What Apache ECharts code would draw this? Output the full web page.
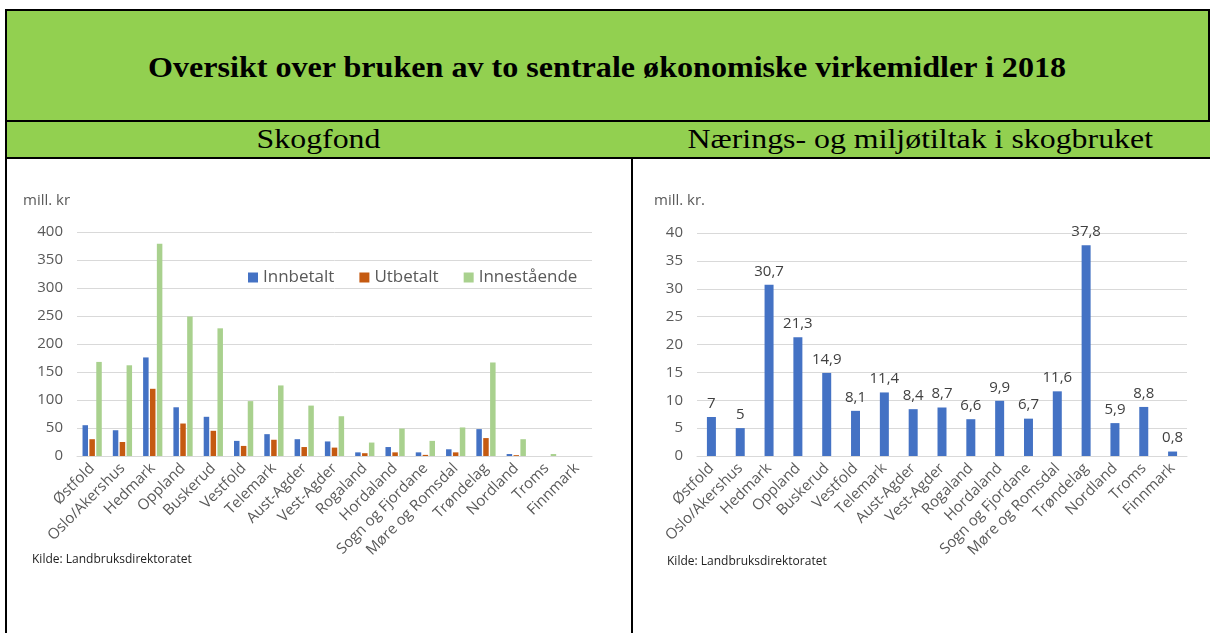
<!DOCTYPE html>
<html>
<head>
<meta charset="utf-8">
<script src="https://cdn.jsdelivr.net/npm/echarts@6/dist/echarts.min.js"></script>
<style>
  html, body { margin: 0; padding: 0; background: #ffffff; }
  body { width: 1210px; height: 633px; position: relative; overflow: hidden; }
  .cell { position: absolute; box-sizing: border-box; }
  .head { background: #92D050; font-family: "Liberation Serif", "DejaVu Serif", serif; color: #000; text-align: center; }
  .head span { display: inline-block; }
  #title { left: 5px; top: 9px; width: 1205px; height: 112px; border: 2px solid #000; border-bottom: none;
           font-weight: bold; font-size: 30px; line-height: 112px; }
  #title span { transform: scaleX(1.07); }
  #sub1 { left: 5px; top: 120px; width: 628px; height: 39px; border-top: 2px solid #000; border-bottom: 2px solid #000;
          border-left: 2px solid #000; border-right: 2px solid #000; font-size: 27px; line-height: 35px; }
  #sub2 { left: 631px; top: 120px; width: 579px; height: 39px; border-top: 2px solid #000; border-bottom: 2px solid #000;
          font-size: 27px; line-height: 35px; }
  #sub1 span, #sub2 span { transform: scaleX(1.18); }
  #vl1 { left: 5px; top: 157px; width: 2px; height: 476px; background: #000; }
  #vl2 { left: 631px; top: 157px; width: 2px; height: 476px; background: #000; }
  #chartL { position: absolute; left: 7px; top: 159px; width: 624px; height: 474px; }
  #chartR { position: absolute; left: 633px; top: 159px; width: 577px; height: 474px; }
</style>
</head>
<body>
<div class="cell head" id="title"><span>Oversikt over bruken av to sentrale økonomiske virkemidler i 2018</span></div>
<div class="cell head" id="sub1"><span>Skogfond</span></div>
<div class="cell head" id="sub2"><span>Nærings- og miljøtiltak i skogbruket</span></div>
<div class="cell" id="vl1"></div>
<div class="cell" id="vl2"></div>
<div id="chartL"></div>
<div id="chartR"></div>
<script>
// fylker
const fylker = ['Østfold', 'Oslo/Akershus', 'Hedmark', 'Oppland', 'Buskerud', 'Vestfold', 'Telemark',
  'Aust-Agder', 'Vest-Agder', 'Rogaland', 'Hordaland', 'Sogn og Fjordane', 'Møre og Romsdal',
  'Trøndelag', 'Nordland', 'Troms', 'Finnmark'];

// Skogfond (mill. kr)
const innbetalt = [55, 46, 176, 87, 70, 27, 39, 30, 26, 6.5, 16, 6.5, 12, 48, 3.5, 0, 0];
const utbetalt = [30, 25, 120, 58, 45, 18, 29, 16, 15, 5, 6.5, 2, 6.5, 32, 1.5, 0, 0];
const innestaende = [168, 162, 379, 249, 228, 98, 126, 90, 71, 24, 49, 27, 51, 167, 30, 3.5, 0];

// Nærings- og miljøtiltak (mill. kr.)
const tiltak = [7, 5, 30.7, 21.3, 14.9, 8.1, 11.4, 8.4, 8.7, 6.6, 9.9, 6.7, 11.6, 37.8, 5.9, 8.8, 0.8];

const fontFam = '"Open Sans", "Noto Sans", sans-serif';
const grayTxt = '#595959';
const gridCol = '#D9D9D9';

function xAxisOpt() {
  return {
    type: 'category',
    data: fylker,
    axisLine: { lineStyle: { color: gridCol } },
    axisTick: { show: false },
    axisLabel: { rotate: 45, interval: 0, color: grayTxt, fontSize: 15, fontFamily: fontFam, margin: 10 }
  };
}

function yAxisOpt(max, interval) {
  return {
    type: 'value',
    min: 0,
    max: max,
    interval: interval,
    axisLine: { show: false },
    axisTick: { show: false },
    splitLine: { lineStyle: { color: gridCol } },
    axisLabel: { color: grayTxt, fontSize: 15, fontFamily: fontFam, margin: 14 }
  };
}

//  venstre: Skogfond
const chartL = echarts.init(document.getElementById('chartL'));
chartL.setOption({
  animation: false,
  textStyle: { fontFamily: fontFam },
  title: {
    text: 'mill. kr', left: 16, top: 34, padding: 0,
    textStyle: { color: grayTxt, fontSize: 15, fontWeight: 'normal', fontFamily: fontFam }
  },
  legend: {
    left: 236, top: 105,
    itemWidth: 10, itemHeight: 10, itemGap: 25,
    icon: 'rect',
    textStyle: { color: grayTxt, fontSize: 17, fontFamily: fontFam }
  },
  graphic: [{
    type: 'text', left: 25, top: 395,
    style: { text: 'Kilde: Landbruksdirektoratet', fill: '#222', fontSize: 12, fontFamily: fontFam }
  }],
  grid: { left: 70, top: 73, width: 515, height: 224 },
  xAxis: xAxisOpt(),
  yAxis: yAxisOpt(400, 50),
  series: [
    { name: 'Innbetalt', type: 'bar', data: innbetalt, barWidth: 5.5, barGap: '25%', itemStyle: { color: '#4472C4' } },
    { name: 'Utbetalt', type: 'bar', data: utbetalt, barWidth: 5.5, barGap: '25%', itemStyle: { color: '#C55A11' } },
    { name: 'Innestående', type: 'bar', data: innestaende, barWidth: 5.5, barGap: '25%', itemStyle: { color: '#A9D18E' } }
  ]
});

//  høyre: Nærings- og miljøtiltak
const chartR = echarts.init(document.getElementById('chartR'));
chartR.setOption({
  animation: false,
  textStyle: { fontFamily: fontFam },
  title: {
    text: 'mill. kr.', left: 21, top: 34, padding: 0,
    textStyle: { color: grayTxt, fontSize: 15, fontWeight: 'normal', fontFamily: fontFam }
  },
  graphic: [{
    type: 'text', left: 34, top: 397,
    style: { text: 'Kilde: Landbruksdirektoratet', fill: '#222', fontSize: 12, fontFamily: fontFam }
  }],
  grid: { left: 64, top: 74, width: 490, height: 223 },
  xAxis: xAxisOpt(),
  yAxis: yAxisOpt(40, 5),
  series: [{
    name: 'Tiltak', type: 'bar', data: tiltak, barWidth: 9,
    itemStyle: { color: '#4472C4' },
    label: {
      show: true, position: 'top', distance: 6, color: '#404040', fontSize: 15, fontFamily: fontFam,
      formatter: p => String(p.value).replace('.', ',')
    }
  }]
});
</script>
</body>
</html>
